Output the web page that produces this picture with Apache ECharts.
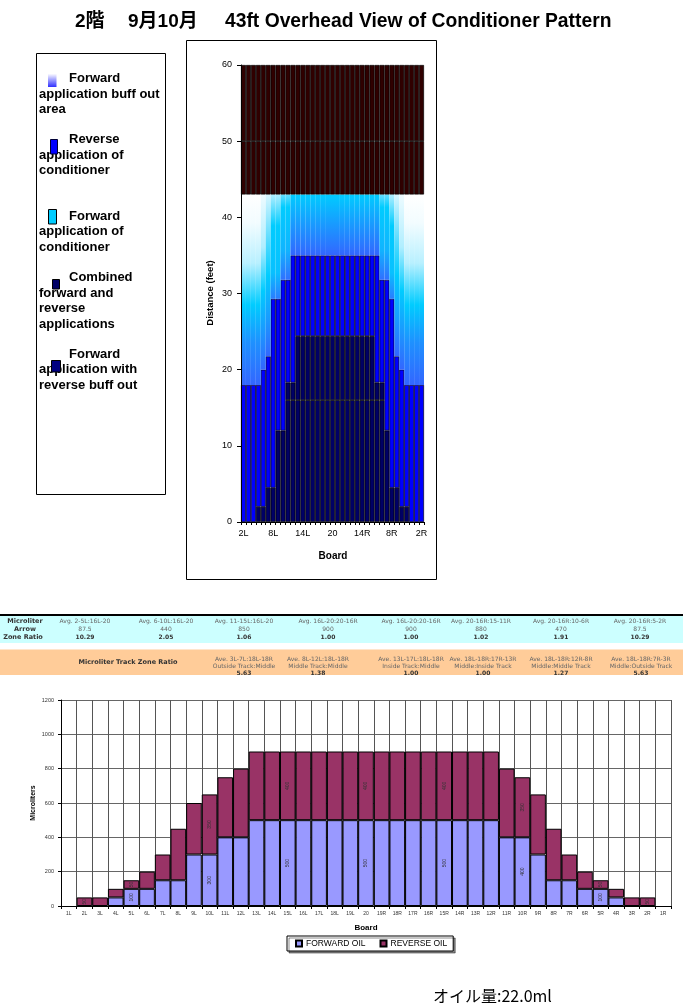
<!DOCTYPE html>
<html>
<head>
<meta charset="utf-8">
<script src="https://cdn.jsdelivr.net/npm/echarts@6/dist/echarts.min.js"></script>
<style>
html,body{margin:0;padding:0;background:#fff;}
#chart{width:686px;height:1008px;}
</style>
</head>
<body>
<div id="chart"></div>
<script>
// ================= DATA =================
// Top chart: overhead view (37 boards, 2L .. 20 .. 2R), levels in feet
const boards = ['2L','3L','4L','5L','6L','7L','8L','9L','10L','11L','12L','13L','14L','15L','16L','17L','18L','19L','20',
  '19R','18R','17R','16R','15R','14R','13R','12R','11R','10R','9R','8R','7R','6R','5R','4R','3R','2R'];
const combinedTop = [0,0,0,2,2,4.5,4.5,12,12,16,16,16,16,16,16,16,16,16,16,16,16,16,16,16,16,16,16,16,16,12,4.5,4.5,2,2,0,0,0];
const reverseBuffTop = [0,0,0,2,2,4.5,4.5,12,12,18.3,18.3,24.4,24.4,24.4,24.4,24.4,24.4,24.4,24.4,24.4,24.4,24.4,24.4,24.4,24.4,24.4,24.4,18.3,18.3,12,4.5,4.5,2,2,0,0,0];
const reverseTop = [18,18,18,18,20,21.75,29.3,29.3,31.8,31.8,35,35,35,35,35,35,35,35,35,35,35,35,35,35,35,35,35,35,31.8,31.8,29.3,21.75,20,18,18,18,18];
const forwardTop = 43;   // end of forward application (ft)
const drySplit = 50;     // lane split line (ft)
const laneEnd = 60;      // axis max (ft)

// Bottom chart: microliters per board (39 boards, 1L .. 20 .. 1R)
const oilBoards = ['1L','2L','3L','4L','5L','6L','7L','8L','9L','10L','11L','12L','13L','14L','15L','16L','17L','18L','19L','20',
  '19R','18R','17R','16R','15R','14R','13R','12R','11R','10R','9R','8R','7R','6R','5R','4R','3R','2R','1R'];
const forwardOil = [0,0,0,50,100,100,150,150,300,300,400,400,500,500,500,500,500,500,500,500,500,500,500,500,500,500,500,500,400,400,300,150,150,100,100,50,0,0,0];
const reverseOil = [0,50,50,50,50,100,150,300,300,350,350,400,400,400,400,400,400,400,400,400,400,400,400,400,400,400,400,400,400,350,350,300,150,100,50,50,50,50,0];
const labeledBoards = ['2L','5L','10L','15L','20','15R','10R','5R','2R'];

// Table data
const zoneHeaders = ['Avg. 2-5L:16L-20','Avg. 6-10L:16L-20','Avg. 11-15L:16L-20','Avg. 16L-20:20-16R','Avg. 16L-20:20-16R','Avg. 20-16R:15-11R','Avg. 20-16R:10-6R','Avg. 20-16R:5-2R'];
const zoneMicroliters = ['87.5','440','850','900','900','880','470','87.5'];
const zoneRatios = ['10.29','2.05','1.06','1.00','1.00','1.02','1.91','10.29'];
const trackHeaders = ['Ave. 3L-7L:18L-18R','Ave. 8L-12L:18L-18R','Ave. 13L-17L:18L-18R','Ave. 18L-18R:17R-13R','Ave. 18L-18R:12R-8R','Ave. 18L-18R:7R-3R'];
const trackSubs = ['Outside Track:Middle','Middle Track:Middle','Inside Track:Middle','Middle:Inside Track','Middle:Middle Track','Middle:Outside Track'];
const trackRatios = ['5.63','1.38','1.00','1.00','1.27','5.63'];

// ================= BUILD =================
const chart = echarts.init(document.getElementById('chart'), null, {renderer: 'canvas'});
const LG = echarts.graphic.LinearGradient;
const FONT = 'Liberation Sans, Arial, Helvetica, sans-serif';
const VFONT = 'DejaVu Sans, Verdana, sans-serif';

function seg(top, bottom) {
  return top.map((v, i) => {
    const d = +(v - (bottom ? bottom[i] : 0)).toFixed(2);
    return d > 0 ? d : '-';
  });
}
function gradStops(top) {
  if (top >= 34) return [{offset:0,color:'#00CCFF'},{offset:1,color:'#3366FF'}];
  if (top >= 31) return [{offset:0,color:'#66DDFF'},{offset:0.15,color:'#00CCFF'},{offset:0.65,color:'#10B4FF'},{offset:1,color:'#3070FF'}];
  if (top >= 29) return [{offset:0,color:'#B0EEFF'},{offset:0.3,color:'#00CCFF'},{offset:0.75,color:'#08C0FF'},{offset:1,color:'#2A7CFF'}];
  if (top >= 21) return [{offset:0,color:'#D8F6FF'},{offset:0.3,color:'#50DAFF'},{offset:0.5,color:'#00CCFF'},{offset:0.78,color:'#1A99FF'},{offset:1,color:'#3366FF'}];
  if (top >= 19.5) return [{offset:0,color:'#EEFBFF'},{offset:0.3,color:'#B0EEFF'},{offset:0.55,color:'#00CCFF'},{offset:0.78,color:'#1A99FF'},{offset:1,color:'#3366FF'}];
  return [{offset:0,color:'#FFFFFF'},{offset:0.15,color:'#F2FCFF'},{offset:0.36,color:'#B8F0FF'},{offset:0.58,color:'#00CCFF'},{offset:0.78,color:'#1F90FF'},{offset:1,color:'#3366FF'}];
}

const forwardSeg = reverseTop.map((t, i) => ({
  value: +(forwardTop - t).toFixed(2),
  itemStyle: {color: new LG(0, 0, 0, 1, gradStops(t))}
}));
const dryA = boards.map(() => drySplit - forwardTop);
const dryB = boards.map(() => laneEnd - drySplit);

function labeled(arr) {
  return arr.map((v, i) => {
    if (v === 0) return '-';
    if (labeledBoards.indexOf(oilBoards[i]) >= 0) return {value: v, label: {show: true}};
    return v;
  });
}

const topBar = {type: 'bar', xAxisIndex: 0, yAxisIndex: 0, stack: 'lane', barCategoryGap: '0%', barGap: '0%'};
const series = [
  Object.assign({}, topBar, {name: 'Combined forward and reverse applications', data: seg(combinedTop),
    itemStyle: {color: '#000066', borderColor: '#000000', borderWidth: 0.7}}),
  Object.assign({}, topBar, {name: 'Forward application with reverse buff out', data: seg(reverseBuffTop, combinedTop),
    itemStyle: {color: '#000066', borderColor: '#000000', borderWidth: 0.7}}),
  Object.assign({}, topBar, {name: 'Reverse application of conditioner', data: seg(reverseTop, reverseBuffTop),
    itemStyle: {color: '#0000FF', borderColor: '#000022', borderWidth: 0.7}}),
  Object.assign({}, topBar, {name: 'Forward application of conditioner', data: forwardSeg,
    itemStyle: {borderWidth: 0}}),
  Object.assign({}, topBar, {name: 'Dry lane 43-50', data: dryA,
    itemStyle: {color: '#300000', borderColor: '#000000', borderWidth: 0.7}}),
  Object.assign({}, topBar, {name: 'Dry lane 50-60', data: dryB,
    itemStyle: {color: '#300000', borderColor: '#000000', borderWidth: 0.7}}),
  {name: 'FORWARD OIL', type: 'bar', xAxisIndex: 1, yAxisIndex: 1, stack: 'oil', barCategoryGap: '0%',
    data: labeled(forwardOil), itemStyle: {color: '#9999FF', borderColor: '#000', borderWidth: 1},
    label: {show: false, position: 'inside', rotate: 90, fontSize: 5, color: '#333', fontFamily: FONT}},
  {name: 'REVERSE OIL', type: 'bar', xAxisIndex: 1, yAxisIndex: 1, stack: 'oil', barCategoryGap: '0%',
    data: labeled(reverseOil), itemStyle: {color: '#993366', borderColor: '#000', borderWidth: 1},
    label: {show: false, position: 'inside', rotate: 90, fontSize: 5, color: '#333', fontFamily: FONT}}
];

// ---------- graphics ----------
const g = [];
function T(text, x, y, o) {
  o = o || {};
  g.push({type: 'text', x: x, y: y, rotation: o.rot || 0, z: o.z || 10, silent: true,
    style: {text: text, fill: o.color || '#000', fontSize: o.size || 12, fontWeight: o.weight || 'normal',
      fontFamily: o.family || FONT, align: o.align || 'left', verticalAlign: 'middle'}});
}
function R(x, y, w, h, fill, stroke, lw, z) {
  g.push({type: 'rect', z: z || 1, silent: true, shape: {x: x, y: y, width: w, height: h},
    style: {fill: fill || 'none', stroke: stroke || null, lineWidth: lw || 0}});
}

// Title
const TF = 'Liberation Sans, Noto Sans CJK JP, sans-serif';
T('2階', 75, 22, {size: 19, weight: 'bold', family: TF});
T('9月10月', 128, 22, {size: 19, weight: 'bold', family: TF});
T('43ft Overhead View of Conditioner Pattern', 225, 22, {size: 19.3, weight: 'bold', family: TF});

// Frames (no fill so the axes stay visible)
R(36.5, 53.5, 129, 441, 'none', '#000', 1, 0);
R(186.5, 40.5, 250, 539, 'none', '#000', 1, 0);

// Top legend (text first, icons on top)
const LF = {size: 13, weight: 'bold'};
T('Forward', 69, 78, LF); T('application buff out', 39, 94, LF); T('area', 39, 109.5, LF);
T('Reverse', 69, 139.5, LF); T('application of', 39, 155.5, LF); T('conditioner', 39, 170.5, LF);
T('Forward', 69, 216, LF); T('application of', 39, 231.7, LF); T('conditioner', 39, 247.3, LF);
T('Combined', 69, 277.7, LF); T('forward and', 39, 293.3, LF); T('reverse', 39, 308.7, LF); T('applications', 39, 324, LF);
T('Forward', 69, 354.3, LF); T('application with', 39, 369.5, LF); T('reverse buff out', 39, 385, LF);
g.push({type: 'rect', z: 20, silent: true, shape: {x: 48, y: 74, width: 8.5, height: 13},
  style: {fill: new LG(0, 0, 0, 1, [{offset: 0, color: '#FAFAFF'}, {offset: 1, color: '#3030FF'}])}});
R(50.5, 139.5, 7, 14.5, '#0000FF', '#000033', 1, 20);
R(48.5, 209.5, 8, 14.5, '#00CCFF', '#000000', 1, 20);
R(52.5, 279.5, 7, 9.5, '#000066', '#000000', 1, 20);
R(51.5, 360.5, 9, 11.5, '#000080', '#000000', 1, 20);

// Axis titles
T('Distance (feet)', 210, 293, {size: 9.5, weight: 'bold', rot: Math.PI / 2, align: 'center'});
T('Board', 333, 556, {size: 10, weight: 'bold', align: 'center'});
T('Microliters', 33, 803, {size: 7, weight: 'bold', rot: Math.PI / 2, align: 'center'});
T('Board', 366, 928, {size: 8, weight: 'bold', align: 'center'});

// Tables
R(0, 615, 683, 28, '#CCFFFF', null, 0, 1);
g.push({type: 'line', z: 2, silent: true, shape: {x1: 0, y1: 615, x2: 683, y2: 615}, style: {stroke: '#000', lineWidth: 2}});
R(0, 649.5, 683, 25.5, '#FFCC99', null, 0, 1);
const zoneCols = [85, 166, 244, 328, 411, 481, 561, 640];
T('Microliter', 25, 621, {size: 6.5, weight: 'bold', family: VFONT, align: 'center', color: '#333'});
T('Arrow', 25, 629.5, {size: 6.5, weight: 'bold', family: VFONT, align: 'center', color: '#333'});
T('Zone Ratio', 23, 637.3, {size: 6.5, weight: 'bold', family: VFONT, align: 'center', color: '#333'});
zoneHeaders.forEach((t, i) => T(t, zoneCols[i], 621, {size: 6, family: VFONT, align: 'center', color: '#666'}));
zoneMicroliters.forEach((t, i) => T(t, zoneCols[i], 629.5, {size: 6, family: VFONT, align: 'center', color: '#666'}));
zoneRatios.forEach((t, i) => T(t, zoneCols[i], 637.3, {size: 6, weight: 'bold', family: VFONT, align: 'center', color: '#333'}));
const trackCols = [244, 318, 411, 483, 561, 641];
T('Microliter Track Zone Ratio', 128, 662, {size: 6.5, weight: 'bold', family: VFONT, align: 'center', color: '#333'});
trackHeaders.forEach((t, i) => T(t, trackCols[i], 659, {size: 6, family: VFONT, align: 'center', color: '#666'}));
trackSubs.forEach((t, i) => T(t, trackCols[i], 666, {size: 6, family: VFONT, align: 'center', color: '#666'}));
trackRatios.forEach((t, i) => T(t, trackCols[i], 673, {size: 6, weight: 'bold', family: VFONT, align: 'center', color: '#333'}));

// Footer
T('オイル量:22.0ml', 433, 996, {size: 16, family: 'Noto Sans CJK JP, sans-serif'});

const option = {
  animation: false,
  backgroundColor: '#fff',
  grid: [
    {left: 241, top: 65, width: 183, height: 457, containLabel: false, outerBoundsMode: 'none'},
    {left: 61, top: 700, width: 610, height: 206, containLabel: false, outerBoundsMode: 'none'}
  ],
  xAxis: [
    {type: 'category', gridIndex: 0, data: boards, z: 5,
      axisLine: {show: true, lineStyle: {color: '#000', width: 1}},
      axisTick: {show: true, interval: 0, length: 3, lineStyle: {color: '#000'}},
      axisLabel: {interval: 5, fontSize: 9, color: '#000', margin: 7, fontFamily: FONT, hideOverlap: false},
      splitLine: {show: false}},
    {type: 'category', gridIndex: 1, data: oilBoards,
      axisLine: {show: true, lineStyle: {color: '#000', width: 1}},
      axisTick: {show: true, interval: 0, length: 3, lineStyle: {color: '#000'}},
      axisLabel: {interval: 0, fontSize: 5, color: '#333', margin: 5, fontFamily: FONT, hideOverlap: false},
      splitLine: {show: true, interval: 0, lineStyle: {color: '#555', width: 1}}}
  ],
  yAxis: [
    {type: 'value', gridIndex: 0, min: 0, max: 60, interval: 10, z: 5,
      axisLine: {show: true, lineStyle: {color: '#000', width: 1}},
      axisTick: {show: true, length: 4, lineStyle: {color: '#000'}},
      axisLabel: {fontSize: 9, color: '#000', margin: 9, fontFamily: FONT, formatter: v => String(v)},
      splitLine: {show: false}},
    {type: 'value', gridIndex: 1, min: 0, max: 1200, interval: 200,
      axisLine: {show: true, lineStyle: {color: '#000', width: 1}},
      axisTick: {show: true, length: 3, lineStyle: {color: '#000'}},
      axisLabel: {fontSize: 5.5, color: '#333', margin: 7, fontFamily: FONT, formatter: v => String(v)},
      splitLine: {show: true, lineStyle: {color: '#666', width: 1}}}
  ],
  legend: {
    data: ['FORWARD OIL', 'REVERSE OIL'], orient: 'horizontal',
    left: 287, top: 936, itemWidth: 6, itemHeight: 6, itemGap: 14, icon: 'rect',
    padding: [3, 6, 3, 8], borderColor: '#000', borderWidth: 1, backgroundColor: '#fff',
    shadowColor: 'rgba(0,0,0,0.45)', shadowOffsetX: 2, shadowOffsetY: 2, shadowBlur: 0,
    textStyle: {fontSize: 8.5, color: '#000', fontFamily: FONT, padding: [0, 0, 0, -1]},
    selectedMode: false
  },
  series: series,
  graphic: {elements: g}
};
chart.setOption(option);
</script>
</body>
</html>
